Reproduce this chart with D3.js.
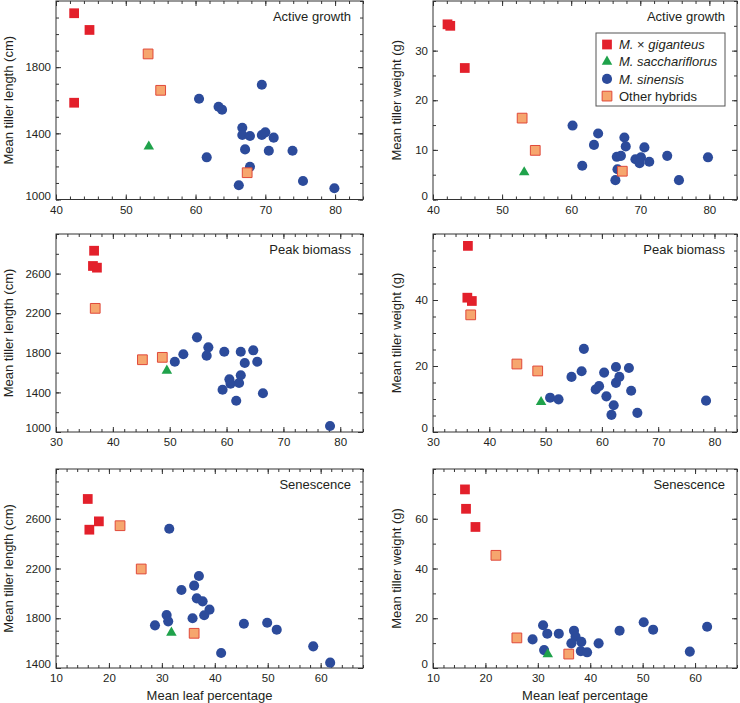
<!DOCTYPE html>
<html><head><meta charset="utf-8">
<script src="https://cdn.jsdelivr.net/npm/d3@7"></script>
<style>
body{margin:0;background:#fff}
text{font-family:"Liberation Sans",Arial,Helvetica,sans-serif;fill:#231f20}
</style>
</head><body>
<svg id="chart" width="740" height="703"></svg>
<script>
// ---------- DATA ----------
const groups = ["M. × giganteus", "M. sacchariflorus", "M. sinensis", "Other hybrids"];
const panelTitles = ["Active growth", "Peak biomass", "Senescence"];
const lengthTitle = "Mean tiller length (cm)";
const weightTitle = "Mean tiller weight (g)";
const xTitle = "Mean leaf percentage";

// x tick labels per row
const xTicksActive = [40, 50, 60, 70, 80];
const xTicksPeak = [30, 40, 50, 60, 70, 80];
const xTicksSen = [10, 20, 30, 40, 50, 60];
// y tick labels per panel
const yTicksActiveLen = [1000, 1400, 1800];
const yTicksActiveWt = [0, 10, 20, 30];
const yTicksPeakLen = [1000, 1400, 1800, 2200, 2600];
const yTicksPeakWt = [0, 20, 40];
const yTicksSenLen = [1400, 1800, 2200, 2600];
const yTicksSenWt = [0, 20, 40, 60];

// Active growth – length
const activeLenGig = [[42.6,2126],[44.8,2025],[42.6,1585]];
const activeLenSac = [[53.3,1320]];
const activeLenSin = [[60.5,1609],[63.3,1561],[63.8,1543],[69.5,1694],[66.7,1434],[66.7,1390],[67.8,1384],[67.1,1303],[69.5,1390],[70.0,1406],[71.2,1374],[70.5,1295],[73.9,1295],[61.6,1255],[67.8,1198],[66.2,1086],[75.4,1112],[79.9,1068]];
const activeLenOth = [[53.2,1880],[55.0,1660],[67.4,1162]];
// Active growth – weight
const activeWtGig = [[42.1,35.3],[42.5,35.0],[44.6,26.5]];
const activeWtSac = [[53.2,5.5]];
const activeWtSin = [[60.2,14.9],[63.9,13.3],[63.3,11.0],[61.6,6.8],[67.7,12.5],[67.9,10.7],[66.6,8.6],[67.2,8.8],[66.7,6.1],[66.4,3.9],[69.3,8.1],[70.1,8.5],[69.9,7.3],[70.6,10.5],[71.3,7.6],[73.9,8.8],[75.6,3.9],[79.8,8.5]];
const activeWtOth = [[52.9,16.4],[54.8,9.9],[67.4,5.7]];
// Peak biomass – length
const peakLenGig = [[36.7,2831],[36.5,2677],[37.2,2660]];
const peakLenSac = [[49.5,1620]];
const peakLenSin = [[50.9,1710],[52.4,1785],[54.8,1956],[56.8,1855],[56.5,1771],[59.6,1811],[62.5,1811],[64.7,1825],[63.2,1697],[65.4,1710],[62.5,1573],[60.5,1532],[60.7,1488],[62.2,1495],[59.3,1427],[61.7,1316],[66.4,1391],[78.2,1061]];
const peakLenOth = [[36.9,2249],[45.2,1730],[48.7,1754]];
// Peak biomass – weight
const peakWtGig = [[36.2,56.4],[36.1,40.7],[36.9,39.7]];
const peakWtSac = [[49.2,9.1]];
const peakWtSin = [[50.8,10.4],[52.3,9.9],[54.6,16.7],[56.4,18.4],[56.8,25.2],[58.9,12.9],[59.5,13.9],[60.4,18.0],[60.8,10.8],[62.1,8.1],[61.7,5.2],[62.5,19.7],[62.5,14.9],[63.1,16.7],[64.8,19.4],[65.2,12.5],[66.3,5.8],[78.5,9.5]];
const peakWtOth = [[36.7,35.5],[44.9,20.6],[48.6,18.5]];
// Senescence – length
const senLenGig = [[16.0,2759],[16.3,2512],[18.1,2579]];
const senLenSac = [[31.8,1684]];
const senLenSin = [[31.4,2520],[33.7,2027],[36.1,2062],[37.0,2140],[36.6,1960],[37.7,1936],[39.0,1869],[38.0,1824],[35.8,1800],[30.9,1826],[31.2,1775],[28.7,1743],[41.2,1521],[45.5,1756],[49.9,1764],[51.7,1708],[58.6,1574],[61.8,1443]];
const senLenOth = [[22.1,2544],[26.1,2196],[36.1,1679]];
// Senescence – weight
const senWtGig = [[16.1,71.8],[16.3,64.0],[18.1,56.7]];
const senWtSac = [[31.9,5.5]];
const senWtSin = [[31.0,17.2],[31.8,13.8],[31.2,7.2],[29.0,11.5],[34.0,13.8],[36.9,15.0],[37.2,12.6],[36.4,9.9],[38.3,10.5],[38.2,6.8],[39.4,6.3],[41.6,9.9],[45.6,15.0],[50.2,18.4],[52.0,15.4],[59.0,6.6],[62.3,16.6]];
const senWtOth = [[22.0,45.3],[26.0,12.1],[35.9,5.6]];

// ---------- LAYOUT ----------
const svg = d3.select("#chart");
svg.append("rect").attr("width",740).attr("height",703).attr("fill","#fff");
const colX = [[56,363],[433,737]];
const rowY = [[1,199.5],[234,432],[469,668]];
const colors = {gig:"#e3202b", sac:"#1fa24b", sin:"#2c4b9b", oth:"#f6a66e", othStroke:"#e0493a"};

const panels = [
  {r:0,c:0,title:panelTitles[0],xd:[40,84],yd:[1000,2200],xt:xTicksActive,yt:yTicksActiveLen,ym:100,yl:lengthTitle,s:[activeLenSin,activeLenSac,activeLenGig,activeLenOth]},
  {r:0,c:1,title:panelTitles[0],xd:[40,84],yd:[0,40],xt:xTicksActive,yt:yTicksActiveWt,ym:5,yl:weightTitle,s:[activeWtSin,activeWtSac,activeWtGig,activeWtOth],legend:true},
  {r:1,c:0,title:panelTitles[1],xd:[30,84],yd:[1000,3000],xt:xTicksPeak,yt:yTicksPeakLen,ym:200,yl:lengthTitle,s:[peakLenSin,peakLenSac,peakLenGig,peakLenOth]},
  {r:1,c:1,title:panelTitles[1],xd:[30,84],yd:[0,60],xt:xTicksPeak,yt:yTicksPeakWt,ym:5,yl:weightTitle,s:[peakWtSin,peakWtSac,peakWtGig,peakWtOth]},
  {r:2,c:0,title:panelTitles[2],xd:[10,68],yd:[1400,3000],xt:xTicksSen,yt:yTicksSenLen,ym:100,yl:lengthTitle,s:[senLenSin,senLenSac,senLenGig,senLenOth],xl:true},
  {r:2,c:1,title:panelTitles[2],xd:[10,68],yd:[0,80],xt:xTicksSen,yt:yTicksSenWt,ym:10,yl:weightTitle,s:[senWtSin,senWtSac,senWtGig,senWtOth],xl:true}
];

const FONT = '"Liberation Sans", Arial, Helvetica, sans-serif';
const symSquare = d3.symbol().type(d3.symbolSquare).size(95);
const symCircle = d3.symbol().type(d3.symbolCircle).size(80);
const symTri = d3.symbol().type(d3.symbolTriangle).size(48);

function styleAxis(g){
  g.attr("font-family",FONT).attr("font-size",11.5).style("color","#333");
  g.select(".domain").remove();
  g.selectAll("text").attr("fill","#231f20");
}

panels.forEach(p=>{
  const [x0,x1] = colX[p.c], [y0,y1] = rowY[p.r];
  const x = d3.scaleLinear().domain(p.xd).range([x0,x1]);
  const y = d3.scaleLinear().domain(p.yd).range([y1,y0]);
  const g = svg.append("g");
  const xMinor = d3.range(p.xd[0], p.xd[1]+0.001, 2);
  const yMinor = d3.range(p.yd[0], p.yd[1]+0.001, p.ym);

  // minor ticks all four sides
  g.append("g").attr("transform",`translate(0,${y1})`).call(d3.axisBottom(x).tickValues(xMinor).tickSize(-3).tickFormat("")).call(styleAxis);
  g.append("g").attr("transform",`translate(0,${y0})`).call(d3.axisTop(x).tickValues(xMinor).tickSize(-3).tickFormat("")).call(styleAxis);
  g.append("g").attr("transform",`translate(${x0},0)`).call(d3.axisLeft(y).tickValues(yMinor).tickSize(-3).tickFormat("")).call(styleAxis);
  g.append("g").attr("transform",`translate(${x1},0)`).call(d3.axisRight(y).tickValues(yMinor).tickSize(-3).tickFormat("")).call(styleAxis);
  // major ticks with labels
  g.append("g").attr("transform",`translate(0,${y1})`).call(d3.axisBottom(x).tickValues(p.xt).tickSize(-5).tickPadding(6).tickFormat(d3.format("d"))).call(styleAxis);
  g.append("g").attr("transform",`translate(0,${y0})`).call(d3.axisTop(x).tickValues(p.xt).tickSize(-5).tickFormat("")).call(styleAxis);
  const ya = g.append("g").attr("transform",`translate(${x0},0)`).call(d3.axisLeft(y).tickValues(p.yt).tickSize(-5).tickPadding(5).tickFormat(d3.format("d"))).call(styleAxis);
  ya.selectAll(".tick text").filter(d=>d===p.yd[0]).attr("y",-4);
  g.append("g").attr("transform",`translate(${x1},0)`).call(d3.axisRight(y).tickValues(p.yt).tickSize(-5).tickFormat("")).call(styleAxis);

  // frame
  g.append("rect").attr("x",x0).attr("y",y0).attr("width",x1-x0).attr("height",y1-y0)
    .attr("fill","none").attr("stroke","#333").attr("stroke-width",1);

  // axis titles
  const tx = p.c===0 ? 13 : 401;
  g.append("text").attr("transform",`translate(${tx},${(y0+y1)/2}) rotate(-90)`)
    .attr("text-anchor","middle").attr("font-size",13).text(p.yl);
  if(p.xl){
    g.append("text").attr("x",(x0+x1)/2).attr("y",y1+32).attr("text-anchor","middle").attr("font-size",13).text(xTitle);
  }
  g.append("text").attr("x",x1-12).attr("y",y0+20).attr("text-anchor","end").attr("font-size",13).text(p.title);

  // marks
  const [sin,sac,gig,oth] = p.s;
  g.selectAll(".sin").data(sin).join("path").attr("class","sin")
    .attr("transform",d=>`translate(${x(d[0])},${y(d[1])})`).attr("d",symCircle).attr("fill",colors.sin);
  g.selectAll(".sac").data(sac).join("path").attr("class","sac")
    .attr("transform",d=>`translate(${x(d[0])},${y(d[1])})`).attr("d",symTri).attr("fill",colors.sac);
  g.selectAll(".gig").data(gig).join("path").attr("class","gig")
    .attr("transform",d=>`translate(${x(d[0])},${y(d[1])})`).attr("d",symSquare).attr("fill",colors.gig);
  g.selectAll(".oth").data(oth).join("path").attr("class","oth")
    .attr("transform",d=>`translate(${x(d[0])},${y(d[1])})`).attr("d",symSquare).attr("fill",colors.oth)
    .attr("stroke",colors.othStroke).attr("stroke-width",1);

  if(p.legend){
    const lg = svg.append("g");
    lg.append("rect").attr("x",596).attr("y",33).attr("width",129).attr("height",73)
      .attr("fill","#fff").attr("stroke","#555").attr("stroke-width",1);
    const rows = [
      {sym:symSquare, fill:colors.gig, stroke:"none"},
      {sym:symTri, fill:colors.sac, stroke:"none"},
      {sym:symCircle, fill:colors.sin, stroke:"none"},
      {sym:symSquare, fill:colors.oth, stroke:colors.othStroke}
    ];
    rows.forEach((r,i)=>{
      const cy = 44.5 + i*17.2;
      lg.append("path").attr("transform",`translate(607,${cy})`).attr("d",r.sym)
        .attr("fill",r.fill).attr("stroke",r.stroke);
      const t = lg.append("text").attr("x",619).attr("y",cy+4.6).attr("font-size",13);
      if(i===0){
        t.append("tspan").attr("font-style","italic").text("M.");
        t.append("tspan").text(" × ");
        t.append("tspan").attr("font-style","italic").text("giganteus");
      } else if(i===3){
        t.text(groups[i]);
      } else {
        t.attr("font-style","italic").text(groups[i]);
      }
    });
  }
});
</script>
</body></html>
